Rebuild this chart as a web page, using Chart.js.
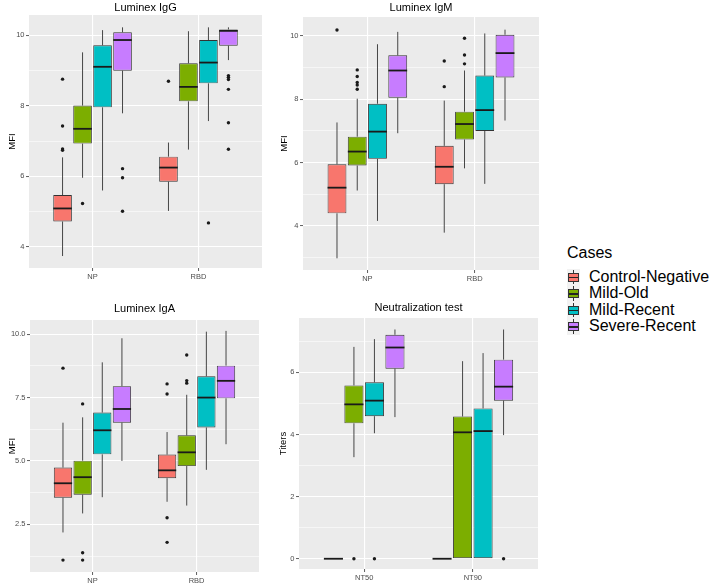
<!DOCTYPE html>
<html>
<head>
<meta charset="utf-8">
<script src="https://cdn.jsdelivr.net/npm/chart.js@4"></script>
<style>
  body { margin: 0; background: #fff; font-family: "Liberation Sans", Arial, sans-serif; }
  #wrap { position: relative; width: 716px; height: 584px; overflow: hidden; }
  canvas { position: absolute; }
  #legend { position: absolute; left: 567px; top: 244px; color: #000; }
  #legend .title { font-size: 16px; line-height: 18px; height: 24.5px; }
  #legend .row { position: relative; height: 16.6px; font-size: 16px; line-height: 16.6px; }
  #legend .key { position: absolute; left: 0; top: 0; width: 13px; height: 16.6px; background: #f2f2f2; }
  #legend .whisk { position: absolute; left: 6px; top: 1px; width: 1px; height: 14.6px; background: #333; }
  #legend .box { position: absolute; left: 1px; top: 4px; width: 9px; height: 7px; border: 1px solid #333; }
  #legend .med { position: absolute; left: 0; top: 3px; width: 9px; height: 1.5px; background: #222; }
  #legend .lbl { position: absolute; left: 22px; top: 0; white-space: nowrap; }
</style>
</head>
<body>
<div id="wrap">
  <canvas id="igg" style="left:0;top:0" width="266" height="287"></canvas>
  <canvas id="igm" style="left:268px;top:0" width="274" height="287"></canvas>
  <canvas id="iga" style="left:0;top:290px" width="266" height="294"></canvas>
  <canvas id="nt" style="left:268px;top:290px" width="274" height="294"></canvas>
  <div id="legend"></div>
</div>
<script>
// groups and colours
const groups = ["Control-Negative", "Mild-Old", "Mild-Recent", "Severe-Recent"];
const colors = ["#F8766D", "#7CAE00", "#00BFC4", "#C77CFF"];

// each box: [lower whisker, Q1, median, Q3, upper whisker], one per category
const iggCats = ["NP", "RBD"];
const iggStats = [
  [[3.74, 4.72, 5.09, 5.47, 6.54], [5.02, 5.85, 6.25, 6.56, 6.96]],
  [[5.96, 6.93, 7.35, 8.01, 9.52], [6.76, 8.13, 8.54, 9.21, 10.12]],
  [[5.60, 7.96, 9.11, 9.72, 10.15], [7.57, 8.64, 9.23, 9.87, 10.23]],
  [[7.79, 9.00, 9.87, 10.09, 10.23], [9.30, 9.71, 10.13, 10.17, 10.23]]
];
const iggOutliers = [
  [[8.76, 7.43, 6.78, 6.74], [8.70]],
  [[5.23], []],
  [[], [4.68]],
  [[6.22, 5.96, 5.01], [8.86, 8.81, 8.75, 8.47, 7.52, 6.77]]
];
const iggTicks = [4, 6, 8, 10];

const igmCats = ["NP", "RBD"];
const igmStats = [
  [[2.98, 4.40, 5.21, 5.95, 7.27], [3.79, 5.32, 5.87, 6.53, 7.96]],
  [[5.12, 5.91, 6.35, 6.82, 8.02], [5.82, 6.73, 7.22, 7.61, 8.91]],
  [[4.16, 6.12, 6.98, 7.86, 9.74], [5.33, 7.00, 7.66, 8.75, 10.08]],
  [[6.93, 8.05, 8.91, 9.39, 10.13], [7.33, 8.69, 9.46, 10.04, 10.20]]
];
const igmOutliers = [
  [[10.19], [9.21, 8.40]],
  [[8.93, 8.72, 8.53, 8.45, 8.32], [9.93, 9.40, 9.12]],
  [[], []],
  [[], []]
];
const igmTicks = [4, 6, 8, 10];

const igaCats = ["NP", "RBD"];
const igaStats = [
  [[2.18, 3.55, 4.12, 4.74, 6.51], [3.39, 4.32, 4.63, 5.25, 6.14]],
  [[2.93, 3.67, 4.36, 5.01, 6.72], [3.24, 4.80, 5.34, 6.01, 7.61]],
  [[3.57, 5.26, 6.21, 6.91, 8.89], [4.65, 6.32, 7.50, 8.34, 10.10]],
  [[5.00, 6.51, 7.05, 7.95, 9.84], [5.66, 7.47, 8.16, 8.76, 10.13]]
];
const igaOutliers = [
  [[8.66, 1.09], [8.04, 7.64, 2.76, 1.79]],
  [[7.25, 1.38, 1.09], [9.18, 8.17, 8.07]],
  [[], []],
  [[], []]
];
const igaTicks = [2.5, 5, 7.5, 10];

const ntCats = ["NT50", "NT90"];
const ntStats = [
  [[0, 0, 0, 0, 0], [0, 0, 0, 0, 0]],
  [[3.27, 4.36, 4.97, 5.58, 6.82], [0, 0, 4.07, 4.58, 6.36]],
  [[4.04, 4.59, 5.09, 5.68, 7.07], [0, 0, 4.11, 4.84, 6.62]],
  [[4.56, 6.12, 6.80, 7.21, 7.38], [3.98, 5.09, 5.54, 6.41, 7.38]]
];
const ntOutliers = [
  [[], []],
  [[0], []],
  [[0], []],
  [[], [0]]
];
const ntTicks = [0, 2, 4, 6];

const FONT = "'Liberation Sans', Arial, sans-serif";

// grey panel, whiskers, medians and outlier dots
const boxExtras = {
  id: "boxExtras",
  beforeDraw(chart) {
    const a = chart.chartArea, ctx = chart.ctx;
    ctx.save();
    ctx.fillStyle = "#EBEBEB";
    ctx.fillRect(a.left, a.top, a.right - a.left, a.bottom - a.top);
    ctx.restore();
  },
  afterDatasetsDraw(chart) {
    const ctx = chart.ctx, y = chart.scales.y;
    ctx.save();
    chart.data.datasets.forEach((ds, i) => {
      const meta = chart.getDatasetMeta(i);
      ds.stats.forEach((s, j) => {
        const bar = meta.data[j];
        const x = bar.x, half = bar.width / 2;
        ctx.strokeStyle = "#333";
        ctx.lineWidth = 0.9;
        ctx.beginPath();
        ctx.moveTo(x, y.getPixelForValue(s[0]));
        ctx.lineTo(x, y.getPixelForValue(s[1]));
        ctx.moveTo(x, y.getPixelForValue(s[3]));
        ctx.lineTo(x, y.getPixelForValue(s[4]));
        ctx.stroke();
        const ym = y.getPixelForValue(s[2]);
        ctx.strokeStyle = "#1a1a1a";
        ctx.lineWidth = 1.8;
        ctx.beginPath();
        ctx.moveTo(x - half, ym);
        ctx.lineTo(x + half, ym);
        ctx.stroke();
        ctx.fillStyle = "#1a1a1a";
        ds.outliers[j].forEach(v => {
          ctx.beginPath();
          ctx.arc(x, y.getPixelForValue(v), 1.7, 0, Math.PI * 2);
          ctx.fill();
        });
      });
    });
    ctx.restore();
  }
};

function makePanel(id, opts) {
  const majors = opts.ticks;
  const step = majors[1] - majors[0];
  // minor grid lines halfway between majors
  const grid = [];
  for (let v = majors[0] - step; v <= majors[majors.length - 1] + step + 1e-9; v += step / 2) {
    const r = Math.round(v * 1000) / 1000;
    if (r >= opts.min && r <= opts.max) grid.push(r);
  }
  const isMajor = v => majors.includes(v);

  new Chart(document.getElementById(id), {
    type: "bar",
    data: {
      labels: opts.cats,
      datasets: groups.map((g, i) => ({
        label: g,
        data: opts.stats[i].map(s => [s[1], s[3]]),
        stats: opts.stats[i],
        outliers: opts.outliers[i],
        backgroundColor: colors[i],
        borderColor: "#333",
        borderWidth: 0.9,
        borderSkipped: false,
        categoryPercentage: 0.755,
        barPercentage: 0.93
      }))
    },
    options: {
      responsive: false,
      animation: false,
      layout: { padding: { left: 0, right: opts.padRight, top: 0, bottom: 0 } },
      plugins: {
        legend: { display: false },
        tooltip: { enabled: false },
        title: {
          display: true,
          text: opts.title,
          fullSize: false,
          color: "#000",
          font: { family: FONT, size: 11, lineHeight: 1.2, weight: "normal" },
          padding: { top: opts.titleTop, bottom: opts.titleBottom }
        }
      },
      scales: {
        x: {
          offset: true,
          grid: { offset: false, color: "#fff", lineWidth: 1.1, tickColor: "#333", tickLength: 3, tickWidth: 0.8 },
          border: { display: false },
          ticks: { color: "#4D4D4D", font: { family: FONT, size: 7.5 }, padding: 1, maxRotation: 0 },
          afterBuildTicks: s => { s._startValue = -0.6; s._valueRange = 2.2; },
          afterFit: s => { s.height = opts.xHeight; }
        },
        y: {
          min: opts.min,
          max: opts.max,
          grid: {
            color: "#fff",
            lineWidth: c => isMajor(c.tick.value) ? 1.1 : 0.55,
            tickColor: c => isMajor(c.tick.value) ? "#333" : "rgba(0,0,0,0)",
            tickLength: 3,
            tickWidth: 0.8
          },
          border: { display: false },
          ticks: {
            autoSkip: false,
            color: "#4D4D4D",
            font: { family: FONT, size: 7.5 },
            padding: 1.5,
            callback: v => isMajor(v) ? (opts.decimals ? v.toFixed(1) : String(v)) : ""
          },
          title: {
            display: true,
            text: opts.yTitle,
            color: "#000",
            font: { family: FONT, size: 9.5, lineHeight: 1.2 },
            padding: { top: opts.yTitlePad, bottom: 0 }
          },
          afterBuildTicks: s => { s.ticks = grid.map(v => ({ value: v })); },
          afterFit: s => { s.width = opts.yWidth; }
        }
      }
    },
    plugins: [boxExtras]
  });
}

makePanel("igg", {
  title: "Luminex IgG", yTitle: "MFI", cats: iggCats, stats: iggStats, outliers: iggOutliers,
  ticks: iggTicks, min: 3.40, max: 10.58, titleTop: 1.8, titleBottom: 0,
  yWidth: 29, xHeight: 19, padRight: 4, yTitlePad: 6.3
});
makePanel("igm", {
  title: "Luminex IgM", yTitle: "MFI", cats: igmCats, stats: igmStats, outliers: igmOutliers,
  ticks: igmTicks, min: 2.61, max: 10.6, titleTop: 1.4, titleBottom: 2.4,
  yWidth: 35, xHeight: 17, padRight: 3, yTitlePad: 10.3
});
makePanel("iga", {
  title: "Luminex IgA", yTitle: "MFI", cats: igaCats, stats: igaStats, outliers: igaOutliers,
  ticks: igaTicks, min: 0.62, max: 10.56, titleTop: 12.4, titleBottom: 4.4, decimals: true,
  yWidth: 30, xHeight: 12, padRight: 7, yTitlePad: 6.3
});
makePanel("nt", {
  title: "Neutralization test", yTitle: "Titers", cats: ntCats, stats: ntStats, outliers: ntOutliers,
  ticks: ntTicks, min: -0.33, max: 7.75, titleTop: 11.4, titleBottom: 3.4,
  yWidth: 31, xHeight: 15, padRight: 4, yTitlePad: 9.3
});

// legend
const legend = document.getElementById("legend");
legend.innerHTML = '<div class="title">Cases</div>' + groups.map((g, i) =>
  '<div class="row"><div class="key"><div class="whisk"></div>' +
  '<div class="box" style="background:' + colors[i] + '"><div class="med"></div></div></div>' +
  '<div class="lbl">' + g + '</div></div>').join("");
</script>
</body>
</html>
